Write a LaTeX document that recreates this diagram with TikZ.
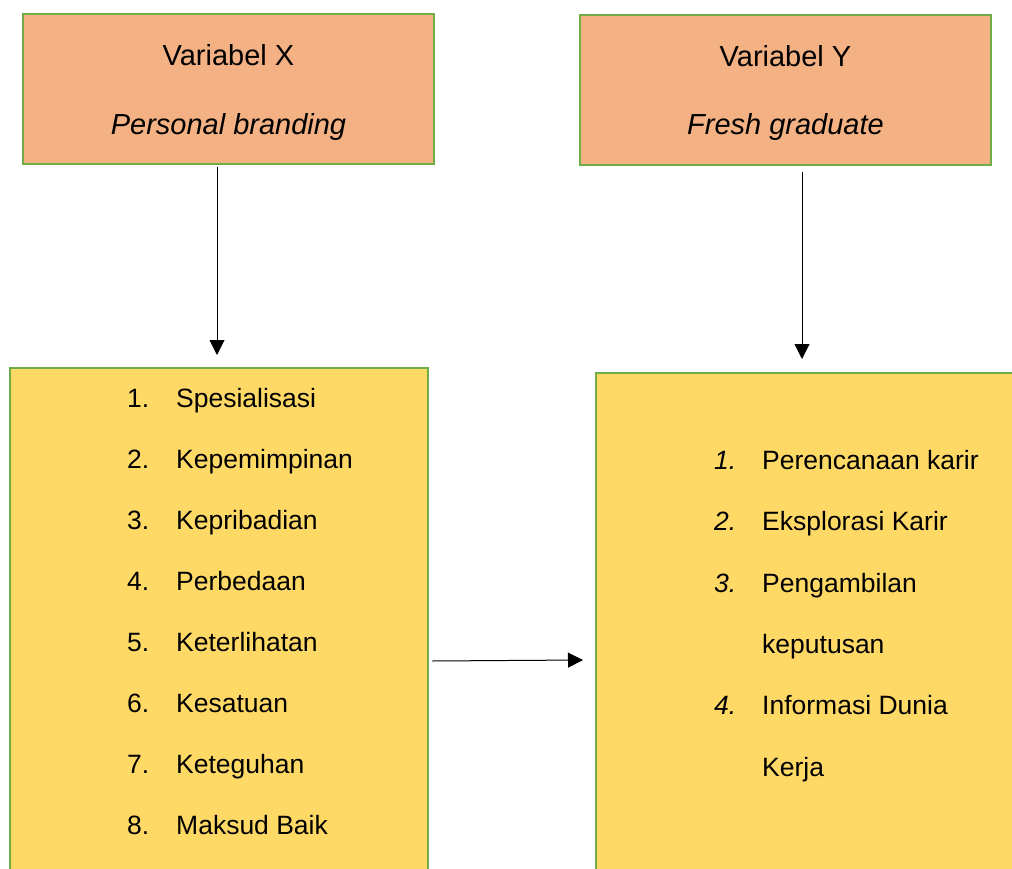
\documentclass[tikz,border=0pt]{standalone}
\usepackage{fontspec}
\setmainfont{Liberation Sans}
\usetikzlibrary{arrows.meta}
\definecolor{edgegreen}{HTML}{70AD47}
\definecolor{peach}{HTML}{F4B183}
\definecolor{gold}{HTML}{FFD966}
\tikzset{var/.style  = {rectangle, draw=edgegreen, line width=2.5pt, fill=peach, minimum width=411pt, minimum height=150pt, inner sep=0pt},
         ind/.style  = {rectangle, draw=edgegreen, line width=2.5pt, fill=gold, inner sep=0pt},
         ttl/.style  = {inner sep=0pt, anchor=base, font=\fontsize{29}{35}\selectfont},
         num/.style  = {inner sep=0pt, anchor=base west, font=\fontsize{26.5}{32}\selectfont},
         itm/.style  = {inner sep=0pt, anchor=base west, font=\fontsize{26.5}{32}\selectfont}}

\begin{document}
\begin{tikzpicture}[x=1pt, y=-1pt, >={Triangle[length=15pt, width=15pt]}]
    \useasboundingbox (0,0) rectangle (1012,869);
    \clip (0,0) rectangle (1012,869);
    % variable boxes
    \node[var] (vx) at (228.5,89) {};
    \node[var] (vy) at (785.5,90) {};
    \node[ttl] (tx1) at (228.5,66)  {Variabel X};
    \node[ttl] (tx2) at (228.5,135) {\textit{Personal branding}};
    \node[ttl] (ty1) at (785.5,67)  {Variabel Y};
    \node[ttl] (ty2) at (785.5,135) {\textit{Fresh graduate}};
    % indicator boxes
    \node[ind, minimum width=418pt, minimum height=540pt] (ix) at (219,638) {};
    \node[ind, minimum width=434pt, minimum height=535pt] (iy) at (813,640.5) {};
    \foreach \t [count=\i] in {Spesialisasi, Kepemimpinan, Kepribadian, Perbedaan,
                               Keterlihatan, Kesatuan, Keteguhan, Maksud Baik} {
        \node[num] (nx\i) at (127, {407+61.1*(\i-1)}) {\i.};
        \node[itm] (lx\i) at (176, {407+61.1*(\i-1)}) {\t};
    }
    \node[num] (ny1) at (714,469) {\textit{1.}};
    \node[itm] (ly1) at (762,469) {Perencanaan karir};
    \node[num] (ny2) at (714,530) {\textit{2.}};
    \node[itm] (ly2) at (762,530) {Eksplorasi Karir};
    \node[num] (ny3) at (714,592) {\textit{3.}};
    \node[itm] (ly3) at (762,592) {Pengambilan};
    \node[itm] (ly3b) at (762,653) {keputusan};
    \node[num] (ny4) at (714,714) {\textit{4.}};
    \node[itm] (ly4) at (762,714) {Informasi Dunia};
    \node[itm] (ly4b) at (762,776) {Kerja};
    % arrows
    \coordinate (ex) at (217,355);
    \coordinate (ey) at (802,359);
    \coordinate (eh) at (583,660);
    \draw[->, line width=1pt] (vx.south -| ex) ++(0,2) -- (ex);
    \draw[->, line width=1pt] (vy.south -| ey) ++(0,6) -- (ey);
    \draw[->, line width=1pt] (ix.east |- eh) ++(3,1) -- (eh);
\end{tikzpicture}
\end{document}
